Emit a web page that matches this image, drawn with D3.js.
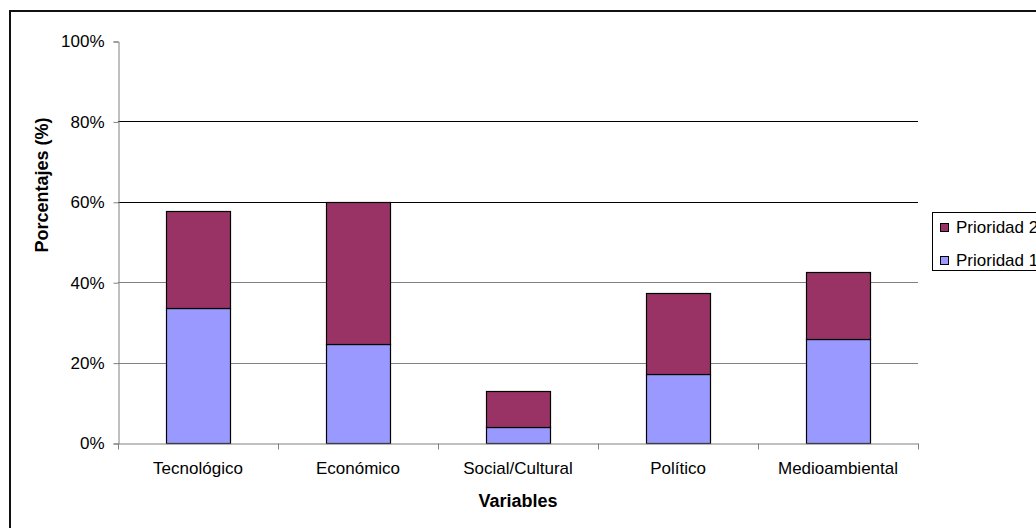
<!DOCTYPE html>
<html>
<head>
<meta charset="utf-8">
<script src="https://cdn.jsdelivr.net/npm/d3@7"></script>
<style>
  body { margin: 0; background: #fff; }
  svg { display: block; font-family: "Liberation Sans", Arial, sans-serif; }
</style>
</head>
<body>
<svg id="chart" width="1036" height="528"></svg>
<script>
// data
const categories = ['Tecnológico', 'Económico', 'Social/Cultural', 'Político', 'Medioambiental'];
const prioridad1 = [33.5, 24.7, 4.0, 17.2, 25.8];
const prioridad2 = [24.3, 35.3, 9.0, 20.0, 16.7];
const yTicks = [0, 20, 40, 60, 80, 100];
const seriesNames = ['Prioridad 1', 'Prioridad 2'];

const colors = { 'Prioridad 1': '#9999FF', 'Prioridad 2': '#993366' };

const svg = d3.select('#chart');

// outer chart border (cropped at right and bottom)
svg.append('rect')
  .attr('x', 10).attr('y', 11)
  .attr('width', 1100).attr('height', 600)
  .attr('fill', 'none')
  .attr('stroke', '#111')
  .attr('stroke-width', 2);

const plot = { left: 118, right: 918, top: 41, bottom: 443 };

const x = d3.scaleBand()
  .domain(categories)
  .range([plot.left, plot.right])
  .paddingInner(0.6)
  .paddingOuter(0.3);

const y = d3.scaleLinear()
  .domain([0, 100])
  .range([plot.bottom, plot.top]);

// gridlines
svg.append('g')
  .selectAll('line')
  .data(yTicks.filter(d => d > 0 && d < 100))
  .join('line')
  .attr('x1', plot.left).attr('x2', plot.right)
  .attr('y1', d => Math.round(y(d)) + 0.5)
  .attr('y2', d => Math.round(y(d)) + 0.5)
  .attr('stroke', d => d >= 60 ? '#000' : '#808080')
  .attr('stroke-width', 1);

// stacked bars
const rows = categories.map((c, i) => ({ cat: c, 'Prioridad 1': prioridad1[i], 'Prioridad 2': prioridad2[i] }));
const stack = d3.stack().keys(seriesNames)(rows);

svg.append('g')
  .selectAll('g')
  .data(stack)
  .join('g')
  .attr('fill', d => colors[d.key])
  .selectAll('rect')
  .data(d => d)
  .join('rect')
  .attr('x', d => Math.round(x(d.data.cat)) + 0.5)
  .attr('y', d => Math.round(y(d[1])) + 0.5)
  .attr('width', Math.round(x.bandwidth()))
  .attr('height', d => Math.round(y(d[0])) - Math.round(y(d[1])))
  .attr('stroke', '#000')
  .attr('stroke-width', 1.2);

// y axis
const yAxis = d3.axisLeft(y)
  .tickValues(yTicks)
  .tickSize(5)
  .tickPadding(9)
  .tickFormat(d => d + '%');

const yg = svg.append('g')
  .attr('transform', 'translate(' + (plot.left + 0.5) + ',0.5)')
  .call(yAxis);
yg.select('.domain').attr('stroke', '#808080');
yg.selectAll('.tick line').attr('stroke', '#808080');
yg.selectAll('.tick text')
  .attr('font-size', 17)
  .attr('fill', '#000')
  .attr('font-family', '"Liberation Sans", Arial, sans-serif');

// x axis with ticks between categories
const xAxis = d3.axisBottom(x).tickSize(0).tickPadding(18);
const xg = svg.append('g')
  .attr('transform', 'translate(0,' + (plot.bottom + 0.5) + ')')
  .call(xAxis);
xg.select('.domain').attr('stroke', '#808080');
xg.selectAll('.tick text')
  .attr('font-size', 17)
  .attr('fill', '#000')
  .attr('font-family', '"Liberation Sans", Arial, sans-serif');

const step = x.step();
xg.append('g')
  .selectAll('line')
  .data(d3.range(categories.length + 1))
  .join('line')
  .attr('x1', i => Math.round(plot.left + i * step) + 0.5)
  .attr('x2', i => Math.round(plot.left + i * step) + 0.5)
  .attr('y1', 0).attr('y2', 6)
  .attr('stroke', '#808080');

// axis titles
svg.append('text')
  .attr('x', 518).attr('y', 507)
  .attr('text-anchor', 'middle')
  .attr('font-size', 18)
  .attr('font-weight', 'bold')
  .text('Variables');

svg.append('text')
  .attr('transform', 'translate(48,185) rotate(-90)')
  .attr('text-anchor', 'middle')
  .attr('font-size', 18)
  .attr('font-weight', 'bold')
  .text('Porcentajes (%)');

// legend
const legend = svg.append('g').attr('transform', 'translate(932,212)');
legend.append('rect')
  .attr('x', 0.5).attr('y', 0.5)
  .attr('width', 200).attr('height', 58)
  .attr('fill', '#fff')
  .attr('stroke', '#000');

const legendItems = ['Prioridad 2', 'Prioridad 1'];
legendItems.forEach((name, i) => {
  const g = legend.append('g').attr('transform', 'translate(8,' + (11 + i * 33) + ')');
  g.append('rect')
    .attr('x', 0.5).attr('y', 0.5)
    .attr('width', 8).attr('height', 8)
    .attr('fill', colors[name])
    .attr('stroke', '#000');
  g.append('text')
    .attr('x', 16).attr('y', 4.5)
    .attr('dy', '0.35em')
    .attr('font-size', 17)
    .text(name);
});
</script>
</body>
</html>
